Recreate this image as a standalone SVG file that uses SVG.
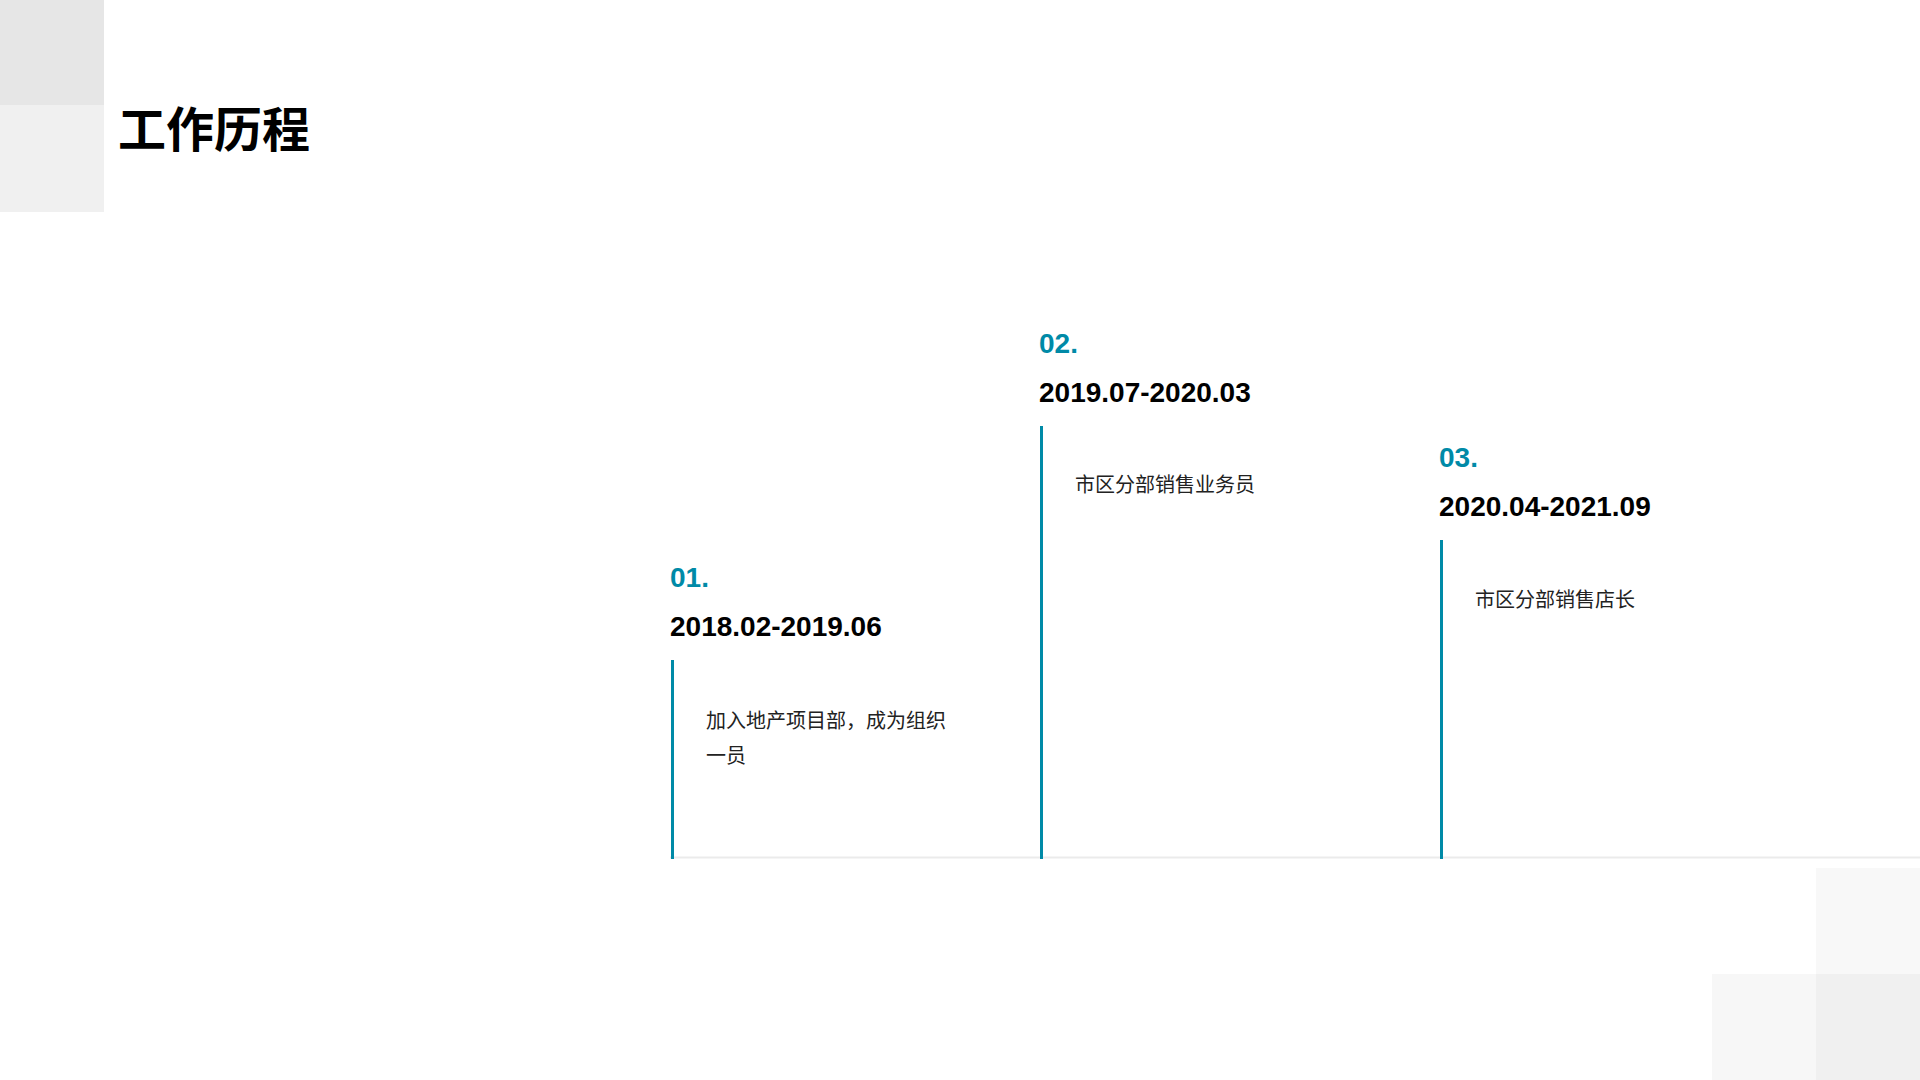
<svg xmlns="http://www.w3.org/2000/svg" width="1920" height="1080" viewBox="0 0 1920 1080">
<style>
.num{font-family:"Liberation Sans",Arial,sans-serif;font-weight:700;font-size:28px;fill:#008aa7}
.date{font-family:"Liberation Sans",Arial,sans-serif;font-weight:700;font-size:28px;fill:#000}
.desc{font-family:"Noto Sans CJK SC","Noto Sans",sans-serif;font-weight:400;font-size:20px;fill:#222}
.title{font-family:"Noto Sans CJK SC","Noto Sans",sans-serif;font-weight:700;font-size:48px;fill:#000}
.vline{stroke:#008aa7;stroke-width:3}
</style>
<rect width="1920" height="1080" fill="#ffffff"/>
<g id="deco">
<rect x="0" y="0" width="104" height="105" fill="#e6e6e6"/>
<rect x="0" y="105" width="104" height="107" fill="#f0f0f0"/>
<rect x="1816" y="868" width="104" height="106" fill="#f8f8f8"/>
<rect x="1712" y="974" width="104" height="106" fill="#f7f7f7"/>
<rect x="1816" y="974" width="104" height="106" fill="#f0f0f0"/>
</g>
<text id="title" class="title" x="118" y="147">工作历程</text>
<g id="connectors">
<line x1="670" y1="857.5" x2="1920" y2="857.5" stroke="#ebebeb" stroke-width="2"/>
<line class="vline" x1="672.5" y1="660" x2="672.5" y2="859"/>
<line class="vline" x1="1041.5" y1="426" x2="1041.5" y2="859"/>
<line class="vline" x1="1441.5" y1="540" x2="1441.5" y2="859"/>
</g>
<g id="node1">
<text class="num" x="670" y="586.5">01.</text>
<text class="date" x="670" y="636">2018.02-2019.06</text>
<text class="desc" x="706" y="727.5">加入地产项目部，成为组织</text>
<text class="desc" x="706" y="763">一员</text>
</g>
<g id="node2">
<text class="num" x="1039" y="352.5">02.</text>
<text class="date" x="1039" y="402">2019.07-2020.03</text>
<text class="desc" x="1075" y="491.5">市区分部销售业务员</text>
</g>
<g id="node3">
<text class="num" x="1439" y="466.5">03.</text>
<text class="date" x="1439" y="516">2020.04-2021.09</text>
<text class="desc" x="1475" y="606.5">市区分部销售店长</text>
</g>
</svg>
